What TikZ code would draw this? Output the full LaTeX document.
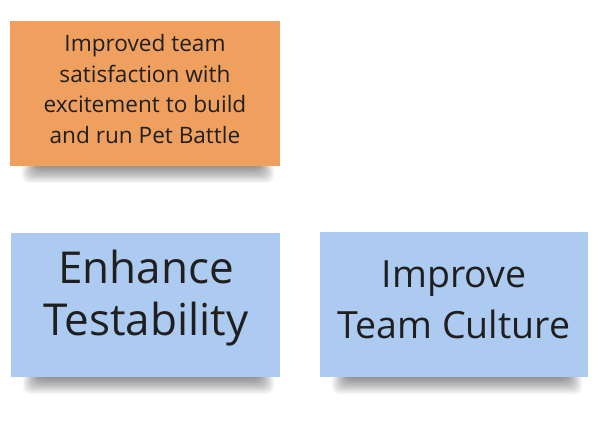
\documentclass[tikz,border=0pt]{standalone}
\usepackage{fontspec}
\setmainfont{Open Sans}
\definecolor{noteorange}{RGB}{240,160,94}
\definecolor{noteblue}{RGB}{173,203,240}
\tikzset{
  note/.style={draw=none, minimum width=#1, inner sep=0pt, align=center, text=black!88},
  smalltext/.style={font=\fontsize{22.6}{30.4}\selectfont},
  bigtext/.style={font=\fontsize{44}{52}\selectfont},
}
% soft shadow under the bottom edge of a note: (x1,x2,ybottom)
\newcommand\noteshadow[3]{%
  \foreach \k in {0,...,13}{%
    \fill[black, opacity=0.035, rounded corners=7pt]
      ({#1+12+\k*1.2},{#3-4}) rectangle ({#2-6-\k*1.2},{#3+17-\k*1.2});
  }%
}
\begin{document}
\begin{tikzpicture}[x=1pt,y=-1pt]
\useasboundingbox (0,0) rectangle (612,420);
\fill[white] (0,0) rectangle (612,420);

% shadows
\noteshadow{10}{280}{166}
\noteshadow{11}{280}{377}
\noteshadow{320}{588}{377}

% notes
\fill[noteorange] (10,21) rectangle (280,166);
\fill[noteblue] (11,233) rectangle (280,377);
\fill[noteblue] (320,232) rectangle (588,377);

\node[note=260pt, smalltext] (n1) at (145,89) {Improved team\\satisfaction with\\excitement to build\\and run Pet Battle};
\node[note=260pt, bigtext] (n2) at (146,298) {Enhance\\Testability};
\node[note=260pt, font=\fontsize{37.5}{51}\selectfont] (n3) at (454,300) {Improve\\Team Culture};
\end{tikzpicture}
\end{document}
